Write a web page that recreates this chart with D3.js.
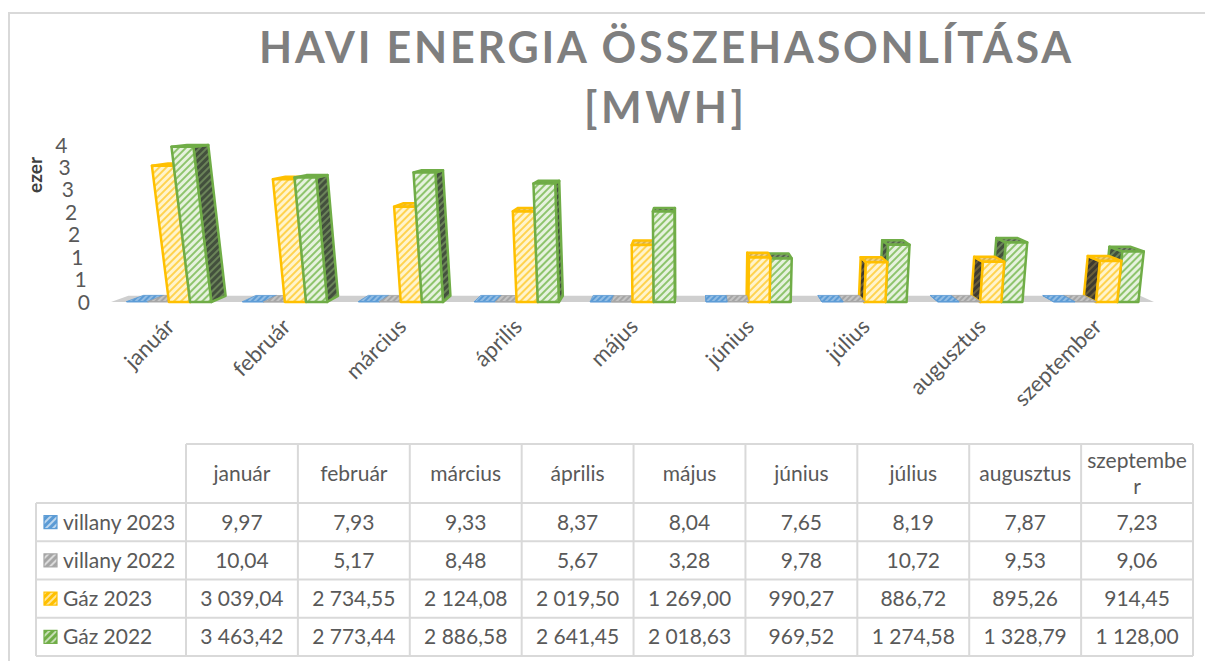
<!DOCTYPE html>
<html>
<head>
<meta charset="utf-8">
<title>Havi energia összehasonlítása</title>
<script src="https://d3js.org/d3.v7.min.js"></script>
<style>
  body { margin: 0; background: #fff; }
  text { font-family: Lato, "Open Sans", sans-serif; fill: #595959; }
</style>
</head>
<body>
<div id="chart"></div>
<script>
const months = ["január", "február", "március", "április", "május", "június", "július", "augusztus", "szeptember"];
const seriesNames = ["villany 2023", "villany 2022", "Gáz 2023", "Gáz 2022"];
const villany2023 = [9.97, 7.93, 9.33, 8.37, 8.04, 7.65, 8.19, 7.87, 7.23];
const villany2022 = [10.04, 5.17, 8.48, 5.67, 3.28, 9.78, 10.72, 9.53, 9.06];
const gaz2023 = [3039.04, 2734.55, 2124.08, 2019.50, 1269.00, 990.27, 886.72, 895.26, 914.45];
const gaz2022 = [3463.42, 2773.44, 2886.58, 2641.45, 2018.63, 969.52, 1274.58, 1328.79, 1128.00];
const yTicks = [0, 500, 1000, 1500, 2000, 2500, 3000, 3500];
const seriesValues = [villany2023, villany2022, gaz2023, gaz2022];

const width = 1205, height = 661;

// colours per series: main, front bg, front stripe, side bg, side stripe, top bg, top stripe
const pal = [
  { main: "#5b9bd5", fb: "#6aa5da", fs: "#a9cbea", sb: "#3d6a93", ss: "#6f97bd", tb: "#5b9bd5", ts: "#a9cbea" },
  { main: "#a5a5a5", fb: "#a9a9a9", fs: "#d2d2d2", sb: "#6e6e6e", ss: "#999", tb: "#a5a5a5", ts: "#d2d2d2" },
  { main: "#ffc000", fb: "#fff4cc", fs: "#ffd34f", sb: "#3e3a30", ss: "#76683c", tb: "#d9b24a", ts: "#ffe08a" },
  { main: "#70ad47", fb: "#e6f2de", fs: "#8ec46d", sb: "#43503d", ss: "#74905f", tb: "#56664d", ts: "#8fae7c" }
];

const svg = d3.select("#chart").append("svg")
  .attr("width", width).attr("height", height);

svg.append("rect").attr("width", width).attr("height", height).attr("fill", "#fff");

const defs = svg.append("defs");
function makePattern(id, bg, stripe, size, sw) {
  const p = defs.append("pattern").attr("id", id)
    .attr("patternUnits", "userSpaceOnUse")
    .attr("width", size).attr("height", size)
    .attr("patternTransform", "rotate(45)");
  p.append("rect").attr("width", size).attr("height", size).attr("fill", bg);
  p.append("line").attr("x1", 1).attr("x2", 1).attr("y1", 0).attr("y2", size)
    .attr("stroke", stripe).attr("stroke-width", sw);
}
pal.forEach((c, j) => {
  makePattern("front" + j, c.fb, c.fs, 5, 2);
  makePattern("side" + j, c.sb, c.ss, 5, 1.6);
  makePattern("top" + j, c.tb, c.ts, 4, 1.4);
  makePattern("key" + j, c.main, "#fff", 5, 1.2);
});

// chart border (top and left visible)
svg.append("rect").attr("x", 9).attr("y", 13).attr("width", 1300).attr("height", 700)
  .attr("fill", "none").attr("stroke", "#d9d9d9").attr("stroke-width", 2);

// title
svg.append("text").attr("x", 665).attr("y", 63).attr("text-anchor", "middle")
  .attr("font-size", 43).attr("font-weight", "bold").style("fill", "#7f7f7f")
  .attr("textLength", 812).attr("lengthAdjust", "spacing")
  .text("HAVI ENERGIA ÖSSZEHASONLÍTÁSA");
svg.append("text").attr("x", 664).attr("y", 123).attr("text-anchor", "middle")
  .attr("font-size", 43).attr("font-weight", "bold").style("fill", "#7f7f7f")
  .attr("textLength", 160).attr("lengthAdjust", "spacing")
  .text("[MWH]");

// scales
const x0 = d3.scaleBand().domain(months).range([111, 1154]).paddingInner(0.27).paddingOuter(0.135);
const x1 = d3.scaleBand().domain(seriesNames).range([0, x0.bandwidth()]);
const y = d3.scaleLinear().domain([0, 3500]).range([302, 145]);
const base = y(0);

// simple perspective: bars lean away from cx, depth shrinks toward (cx, vy)
const cx = 690, vy = 95, depthS = 0.97, tilt = 0.00024;
function proj(px, py, back) {
  const h = base - py;
  let X = px + (px - cx) * tilt * h;
  let Y = py;
  if (back) { X = cx + (X - cx) * depthS; Y = vy + (Y - vy) * depthS; }
  return [X, Y];
}
const poly = pts => pts.map(p => p.join(",")).join(" ");

// floor
const fl = x0.range()[0], fr = x0.range()[1];
svg.append("polygon")
  .attr("points", poly([proj(fl, base, false), proj(fr, base, false), proj(fr, base, true), proj(fl, base, true)]))
  .attr("fill", "#cfcfcf");

// y axis labels
svg.append("g").selectAll("text").data(yTicks).join("text")
  .attr("x", d => proj(90, y(d), false)[0])
  .attr("y", d => y(d))
  .attr("dy", "0.36em")
  .attr("text-anchor", "end")
  .attr("font-size", 21)
  .text(d => Math.round(d / 1000));

svg.append("text")
  .attr("transform", "translate(42,175) rotate(-90)")
  .attr("text-anchor", "middle")
  .attr("font-size", 19).attr("font-weight", "bold")
  .style("fill", "#404040")
  .text("ezer");

// bars
const bars = [];
months.forEach((m, i) => {
  seriesNames.forEach((s, j) => {
    const xl = x0(m) + x1(s), xr = xl + x1.bandwidth();
    bars.push({ m, j, v: seriesValues[j][i], xl, xr });
  });
});
bars.forEach(b => { b.dist = Math.abs((b.xl + b.xr) / 2 - cx); });
bars.sort((a, b) => b.dist - a.dist);

const barG = svg.append("g");
bars.forEach(b => {
  const yt = y(b.v);
  const g = barG.append("g");
  const sw = b.j >= 2 ? 2.5 : 0.8;
  const col = pal[b.j].main;
  const fBL = proj(b.xl, base, false), fBR = proj(b.xr, base, false);
  const fTL = proj(b.xl, yt, false), fTR = proj(b.xr, yt, false);
  const bBL = proj(b.xl, base, true), bBR = proj(b.xr, base, true);
  const bTL = proj(b.xl, yt, true), bTR = proj(b.xr, yt, true);
  const rightSide = (b.xl + b.xr) / 2 < cx;
  const side = rightSide ? [fBR, fTR, bTR, bBR] : [fBL, fTL, bTL, bBL];
  g.append("polygon").attr("points", poly(side))
    .attr("fill", `url(#side${b.j})`).attr("stroke", col).attr("stroke-width", sw).attr("stroke-linejoin", "round");
  g.append("polygon").attr("points", poly([fTL, fTR, bTR, bTL]))
    .attr("fill", `url(#top${b.j})`).attr("stroke", col).attr("stroke-width", sw).attr("stroke-linejoin", "round");
  g.append("polygon").attr("points", poly([fBL, fBR, fTR, fTL]))
    .attr("fill", `url(#front${b.j})`).attr("stroke", col).attr("stroke-width", sw).attr("stroke-linejoin", "round");
});

// category labels
svg.append("g").selectAll("text").data(months).join("text")
  .attr("transform", d => `translate(${x0(d) + x0.bandwidth() / 2 + 7},328) rotate(-45)`)
  .attr("text-anchor", "end")
  .attr("font-size", 22)
  .text(d => d);

// data table
const fmt = d3.formatLocale({ decimal: ",", thousands: " ", grouping: [3], currency: ["", ""] }).format(",.2f");
const tc = d3.scaleBand().domain(months).range([186, 1193]);
const tr = d3.scaleBand().domain(seriesNames).range([503, 656]);
const headTop = 444, tableLeft = 36;
const tbl = svg.append("g");
const gridCol = "#d9d9d9";

// horizontal lines
tbl.append("line").attr("x1", 186).attr("x2", 1193).attr("y1", headTop).attr("y2", headTop);
[...seriesNames.map(s => tr(s)), 656].forEach(yy => {
  tbl.append("line").attr("x1", tableLeft).attr("x2", 1193).attr("y1", yy).attr("y2", yy);
});
// vertical lines
tbl.append("line").attr("x1", tableLeft).attr("x2", tableLeft).attr("y1", 503).attr("y2", 656);
[...months.map(m => tc(m)), 1193].forEach(xx => {
  tbl.append("line").attr("x1", xx).attr("x2", xx).attr("y1", headTop).attr("y2", 656);
});
tbl.selectAll("line").attr("stroke", gridCol).attr("stroke-width", 2);

// header cells, wrapped by characters when too wide
months.forEach(m => {
  const t = tbl.append("text").attr("x", tc(m) + tc.bandwidth() / 2)
    .attr("text-anchor", "middle").attr("font-size", 21);
  t.text(m);
  const maxW = tc.bandwidth() - 6;
  let lines = [m];
  if (t.node().getComputedTextLength() > maxW) {
    lines = [];
    let cur = "";
    for (const ch of m) {
      t.text(cur + ch);
      if (t.node().getComputedTextLength() > maxW && cur) { lines.push(cur); cur = ch; }
      else cur += ch;
    }
    lines.push(cur);
  }
  t.text(null);
  const mid = (headTop + 503) / 2, lh = 26;
  lines.forEach((ln, k) => {
    t.append("tspan").attr("x", tc(m) + tc.bandwidth() / 2)
      .attr("y", mid + (k - (lines.length - 1) / 2) * lh)
      .attr("dy", "0.36em").text(ln);
  });
});

// series rows
seriesNames.forEach((s, j) => {
  const yc = tr(s) + tr.bandwidth() / 2;
  tbl.append("rect").attr("x", 44).attr("y", yc - 6.5).attr("width", 13).attr("height", 13)
    .attr("fill", `url(#key${j})`).attr("stroke", pal[j].main).attr("stroke-width", 1.2);
  tbl.append("text").attr("x", 63).attr("y", yc).attr("dy", "0.36em")
    .attr("font-size", 21).text(s);
  months.forEach((m, i) => {
    tbl.append("text").attr("x", tc(m) + tc.bandwidth() / 2).attr("y", yc).attr("dy", "0.36em")
      .attr("text-anchor", "middle").attr("font-size", 21)
      .text(fmt(seriesValues[j][i]));
  });
});
</script>
</body>
</html>
